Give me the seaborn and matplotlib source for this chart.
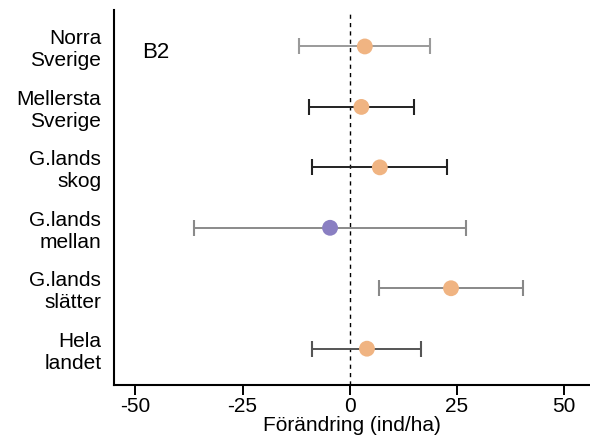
import matplotlib
matplotlib.use("Agg")
import matplotlib.pyplot as plt
import seaborn as sns
import pandas as pd
import numpy as np

regions = ["Norra\nSverige", "Mellersta\nSverige", "G.lands\nskog", "G.lands\nmellan", "G.lands\nslätter", "Hela\nlandet"]
estimate = [3.5, 2.7, 7.0, -4.6, 23.6, 4.0]
lower = [-11.9, -9.5, -8.9, -36.3, 6.8, -8.8]
upper = [18.8, 15.0, 22.6, 27.0, 40.4, 16.7]
bar_colors = ["#9a9a9a", "#222222", "#222222", "#8a8a8a", "#888888", "#555555"]
x_ticks = [-50, -25, 0, 25, 50]

sns.set_theme(style="white")
plt.rcParams["font.family"] = ["Liberation Sans", "DejaVu Sans"]
plt.rcParams["text.color"] = "black"
plt.rcParams["xtick.color"] = "black"
plt.rcParams["ytick.color"] = "black"
plt.rcParams["axes.labelcolor"] = "black"

df = pd.DataFrame({"region": regions, "est": estimate, "lo": lower, "hi": upper})
df["sign"] = np.where(df["est"] >= 0, "pos", "neg")
df["ypos"] = np.arange(len(regions))[::-1]

fig = plt.figure(figsize=(5.9, 4.43), dpi=100)
ax = fig.add_axes([0.193, 0.131, 0.807, 0.846])

ax.axvline(0, color="black", lw=1.0, ls=(0, (3, 3)), zorder=1)
for _, r in df.iterrows():
    c = bar_colors[regions.index(r["region"])]
    ax.errorbar(r["est"], r["ypos"], xerr=[[r["est"] - r["lo"]], [r["hi"] - r["est"]]],
                fmt="none", ecolor=c, elinewidth=1.4, capsize=5.5, capthick=1.5, zorder=2)

sns.scatterplot(data=df, x="est", y="ypos", hue="sign",
                palette={"pos": "#f0b482", "neg": "#8a7fc2"},
                s=130, edgecolor="none", legend=False, ax=ax, zorder=3)

ax.set_xlim(-55, 56)
ax.set_ylim(-0.6, 5.6)
ax.set_yticks(df["ypos"])
ax.set_yticklabels(df["region"], fontsize=15)
ax.set_xticks(x_ticks)
ax.set_xticklabels([str(t) for t in x_ticks], fontsize=15)
ax.set_xlabel("Förändring (ind/ha)", fontsize=15, labelpad=0)
ax.set_ylabel("")
ax.tick_params(axis="x", bottom=True, direction="out", length=7, width=1.4, color="black", pad=2)
ax.tick_params(axis="y", left=False, length=0, pad=9)
for s in ["top", "right"]:
    ax.spines[s].set_visible(False)
for s in ["left", "bottom"]:
    ax.spines[s].set_color("black")
    ax.spines[s].set_linewidth(1.5)

ax.text(0.059, 0.888, "B2", transform=ax.transAxes, fontsize=16, ha="left", va="center")

fig.savefig("out.png", dpi=100)
